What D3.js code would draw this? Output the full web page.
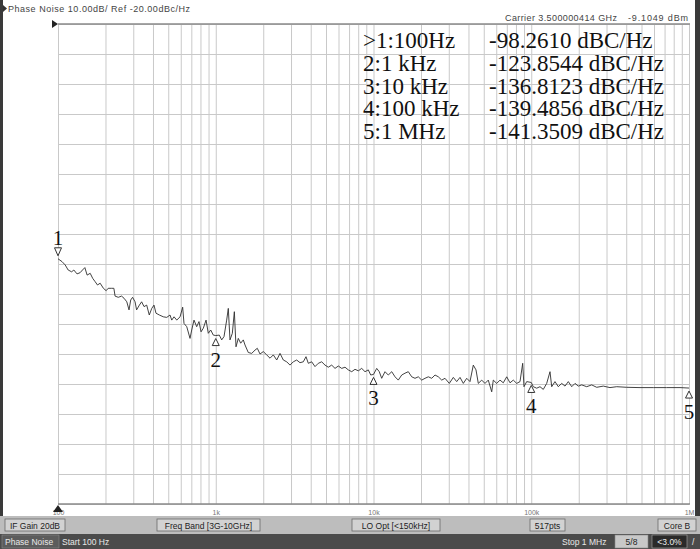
<!DOCTYPE html>
<html><head><meta charset="utf-8">
<script src="https://cdn.jsdelivr.net/npm/d3@7"></script>
<style>body{margin:0;background:#fff}svg{display:block}</style>
</head><body><svg id="c" width="700" height="549"></svg>
<script>
// ---- data ----
const traceFreqHz = [100,106,111,116,122,126,132,138,143,148,153,160,166,172,178,185,194,202,208,219,226,230,241,253,262,273,282,289,297,308,315,328,339,351,365,379,393,406,418,439,465,489,513,526,544,566,594,617,629,655,687,704,728,757,783,807,834,868,897,929,965,
1000,1053,1091,1128,1173,1201,1231,1274,1312,1344,1390,1439,1495,1533,1608,1690,1774,1834,1908,2002,2104,2208,2317,2435,2555,2681,2818,2956,3102,3260,3420,3589,3734,3861,4057,4258,4468,4695,4927,5170,5433,5702,5984,6287,6597,6923,7275,7634,8012,8418,8834,9269,9601,
10000,10480,10880,11270,11830,12410,13050,13690,14360,15100,15840,16620,17470,18330,19230,20210,21210,22260,23390,24550,25760,27070,28390,30240,32060,33690,35350,37100,38980,40900,42920,44650,46170,48520,50910,53420,56150,57470,60390,63370,66490,69890,73340,76950,80870,84860,88270,89950,93590,
100000,103000,108300,113600,119200,125300,131500,134800,141400,148400,156000,163700,171800,180500,189400,198800,208900,224700,241600,260000,286200,315600,348100,402800,489100,593900,722000,877000,1000000];
const traceDbc = [-98.26,-99.2,-100.3,-102.0,-102.6,-102.0,-103.3,-102.9,-102.0,-101.2,-103.7,-103.1,-104.8,-105.9,-107.0,-106.4,-108.1,-108.9,-108.1,-108.1,-108.1,-110.7,-111.1,-110.7,-111.4,-112.6,-115.3,-112.0,-111.1,-112.6,-115.3,-113.7,-112.6,-114.2,-113.7,-117.0,-114.8,-113.7,-116.4,-117.0,-117.6,-117.8,-117.0,-118.7,-117.6,-118.7,-117.6,-114.4,-119.8,-120.9,-124.8,-122.0,-118.7,-120.9,-119.2,-122.6,-121.4,-118.7,-123.1,-122.0,-123.7,
-123.85,-123.7,-125.3,-124.2,-118.7,-114.8,-125.3,-123.1,-115.9,-127.6,-124.8,-126.4,-125.3,-127.0,-129.5,-129.8,-128.7,-128.1,-130.0,-129.2,-130.3,-131.4,-130.3,-132.0,-129.8,-132.0,-132.6,-133.7,-132.6,-132.0,-132.9,-132.6,-130.9,-133.1,-132.6,-134.2,-133.1,-132.6,-133.7,-134.4,-133.7,-134.8,-134.0,-134.8,-134.4,-135.3,-135.9,-135.1,-135.6,-134.8,-135.9,-135.3,-137.0,
-136.81,-134.8,-135.9,-138.1,-135.9,-137.0,-135.9,-137.6,-138.7,-137.0,-136.4,-135.9,-137.6,-138.1,-137.6,-138.7,-138.1,-137.6,-138.1,-137.0,-137.6,-138.7,-138.1,-139.8,-137.8,-139.2,-137.8,-139.8,-138.1,-139.2,-133.7,-135.3,-139.8,-138.7,-139.8,-138.7,-142.6,-138.7,-139.8,-138.7,-139.6,-137.6,-139.6,-138.7,-139.8,-139.2,-133.1,-140.9,-139.2,
-139.49,-140.9,-141.4,-140.9,-141.8,-139.8,-135.9,-140.9,-139.2,-140.9,-139.8,-140.7,-139.2,-140.9,-139.8,-140.7,-140.3,-140.9,-140.3,-141.1,-140.7,-141.2,-140.9,-141.1,-141.2,-141.2,-141.2,-141.2,-141.35];

const markerIds = ["1","2","3","4","5"];
const markerFreqHz = [100,1000,10000,100000,1000000];
const markerDbc = [-98.2610,-123.8544,-136.8123,-139.4856,-141.3509];
const markerFreqText = [">1:100Hz","2:1 kHz","3:10 kHz","4:100 kHz","5:1 MHz"];
const xTickValues = [100,1000,10000,100000,1000000];
const xTickLabels = ["100","1k","10k","100k","1M"];
const refLevel = -20, dbPerDiv = 10, numDiv = 16;
const headerLeft = "Phase Noise 10.00dB/ Ref -20.00dBc/Hz";
const carrierText = "Carrier 3.500000414 GHz";
const powerText = "-9.1049 dBm";
const statusTop = ["IF Gain 20dB","Freq Band [3G-10GHz]","LO Opt [<150kHz]","517pts","Core B"];
const statusBottomLeft = ["Phase Noise","Start 100 Hz"];
const statusBottomRight = ["Stop 1 MHz","5/8","<3.0%","/"];

// ---- layout ----
const svg = d3.select("#c");
const L = 58, R = 689, T = 24, B = 504;
const x = d3.scaleLog().domain([100, 1e6]).range([L, R]);
const y = d3.scaleLinear().domain([refLevel, refLevel - dbPerDiv*numDiv]).range([T, B]);
const sans = "Liberation Sans, Arial, sans-serif";
const serif = "Liberation Serif, Times New Roman, serif";

svg.append("rect").attr("width",700).attr("height",549).attr("fill","#fff");

// grid
const minor = [];
for (let d = 100; d < 1e6; d *= 10) for (let k = 1; k <= 9; k++) minor.push(d*k);
minor.push(1e6);
const gx = svg.append("g").attr("transform",`translate(0,${B})`)
  .call(d3.axisBottom(x).tickValues(minor).tickSize(-(B-T)).tickFormat(""));
gx.select(".domain").remove();
gx.selectAll("line").attr("stroke","#c9c9c9").attr("stroke-width",1);
const yTicks = d3.range(0, numDiv+1).map(i => refLevel - i*dbPerDiv);
const gy = svg.append("g").attr("transform",`translate(${L},0)`)
  .call(d3.axisLeft(y).tickValues(yTicks).tickSize(-(R-L)).tickFormat(""));
gy.select(".domain").remove();
gy.selectAll("line").attr("stroke","#c9c9c9").attr("stroke-width",1);
// top & bottom borders
svg.append("line").attr("x1",L).attr("x2",R+1).attr("y1",y(refLevel)).attr("y2",y(refLevel)).attr("stroke","#8a8a8a").attr("stroke-width",1.5);
svg.append("line").attr("x1",L).attr("x2",R+1).attr("y1",B).attr("y2",B).attr("stroke","#8a8a8a").attr("stroke-width",1.5);
// ref level pointer
svg.append("path").attr("d",`M${L-6},${T-4}L${L},${T}L${L-6},${T+4}Z`).attr("fill","#222");

// x axis labels
const xa = svg.append("g").attr("transform",`translate(0,${B+2})`)
  .call(d3.axisBottom(x).tickValues(xTickValues).tickSize(0).tickPadding(4)
    .tickFormat((d,i)=>xTickLabels[i]));
xa.select(".domain").remove();
xa.selectAll("text").attr("font-family",sans).attr("font-size",7).attr("fill","#777");
svg.append("path").attr("d",`M${L-5},${B+8}L${L},${B+1}L${L+5},${B+8}Z`).attr("fill","#222");

// header texts
svg.append("path").attr("d","M3,5L7,8.5L3,12Z").attr("fill","#333");
svg.append("text").attr("x",8).attr("y",12).attr("font-family",sans).attr("font-size",9)
  .attr("fill","#444").attr("textLength",182).text(headerLeft);
svg.append("text").attr("x",505).attr("y",21).attr("font-family",sans).attr("font-size",9)
  .attr("fill","#444").attr("textLength",112).text(carrierText);
svg.append("text").attr("x",628).attr("y",21).attr("font-family",sans).attr("font-size",9)
  .attr("fill","#444").attr("textLength",60).text(powerText);

// trace
const pts = traceFreqHz.map((f,i)=>[f, traceDbc[i]]);
svg.append("path").datum(pts)
  .attr("d", d3.line().x(d=>x(d[0])).y(d=>y(d[1])))
  .attr("fill","none").attr("stroke","#2e2e2e").attr("stroke-width",0.9).attr("stroke-linejoin","round");

// markers
markerIds.forEach((id,i)=>{
  const mx = x(markerFreqHz[i]), my = y(markerDbc[i]);
  const g = svg.append("g");
  if (i === 0) {
    g.append("path").attr("d",`M${mx-3.5},${my-11}L${mx+3.5},${my-11}L${mx},${my-3}Z`)
      .attr("fill","#fff").attr("stroke","#333").attr("stroke-width",1);
    g.append("text").attr("x",mx).attr("y",my-14).attr("text-anchor","middle")
      .attr("font-family",serif).attr("font-size",21).attr("fill","#111").text(id);
  } else {
    g.append("path").attr("d",`M${mx},${my+3}L${mx+3.5},${my+10}L${mx-3.5},${my+10}Z`)
      .attr("fill","#fff").attr("stroke","#333").attr("stroke-width",1);
    g.append("text").attr("x",mx).attr("y",my+31).attr("text-anchor","middle")
      .attr("font-family",serif).attr("font-size",21).attr("fill","#111").text(id);
  }
});

// marker table
const rowY = d3.scaleLinear().domain([0,4]).range([48,139]);
markerFreqText.forEach((t,i)=>{
  svg.append("text").attr("x",363).attr("y",rowY(i)).attr("font-family",serif)
    .attr("font-size",23).attr("fill","#111").text(t);
  svg.append("text").attr("x",489).attr("y",rowY(i)).attr("font-family",serif)
    .attr("font-size",23).attr("fill","#111").text(markerDbc[i].toFixed(4)+" dBC/Hz");
});

// frame side bars
svg.append("rect").attr("x",0).attr("y",0).attr("width",3).attr("height",517).attr("fill","#3a3a3a");
svg.append("rect").attr("x",695).attr("y",0).attr("width",5).attr("height",517).attr("fill","#3a3a3a");

// status bar top
svg.append("rect").attr("x",0).attr("y",516).attr("width",700).attr("height",18).attr("fill","#bdbdbd");
const boxes = [[5,60],[157,103],[352,88],[530,35],[658,38]];
statusTop.forEach((t,i)=>{
  const [bx,bw] = boxes[i];
  svg.append("rect").attr("x",bx).attr("y",519).attr("width",bw).attr("height",12)
    .attr("fill","#d2d2d2").attr("stroke","#6a6a6a").attr("stroke-width",0.8);
  svg.append("text").attr("x",bx+bw/2).attr("y",528.5).attr("text-anchor","middle")
    .attr("font-family",sans).attr("font-size",8.5).attr("fill","#222").text(t);
});
// status bar bottom
svg.append("rect").attr("x",0).attr("y",534).attr("width",700).attr("height",15).attr("fill","#4b4b4b");
svg.append("rect").attr("x",2).attr("y",535).attr("width",57).attr("height",13).attr("fill","#5c5c5c").attr("stroke","#8a8a8a").attr("stroke-width",0.6);
svg.append("text").attr("x",5).attr("y",545).attr("font-family",sans).attr("font-size",8.5).attr("fill","#e8e8e8").text(statusBottomLeft[0]);
svg.append("text").attr("x",62).attr("y",545).attr("font-family",sans).attr("font-size",8.5).attr("fill","#e8e8e8").text(statusBottomLeft[1]);
svg.append("text").attr("x",562).attr("y",545).attr("font-family",sans).attr("font-size",8.5).attr("fill","#e8e8e8").text(statusBottomRight[0]);
svg.append("rect").attr("x",615).attr("y",535).attr("width",33).attr("height",13).attr("fill","#c8c8c8").attr("stroke","#888").attr("stroke-width",0.6);
svg.append("text").attr("x",631.5).attr("y",545).attr("text-anchor","middle").attr("font-family",sans).attr("font-size",8.5).attr("fill","#222").text(statusBottomRight[1]);
svg.append("rect").attr("x",652).attr("y",535).attr("width",35).attr("height",13).attr("fill","#2a2a2a").attr("stroke","#aaa").attr("stroke-width",0.6);
svg.append("text").attr("x",669.5).attr("y",545).attr("text-anchor","middle").attr("font-family",sans).attr("font-size",8.5).attr("fill","#eee").text(statusBottomRight[2]);
svg.append("text").attr("x",692).attr("y",545).attr("font-family",sans).attr("font-size",8.5).attr("fill","#eee").text(statusBottomRight[3]);
</script></body></html>
